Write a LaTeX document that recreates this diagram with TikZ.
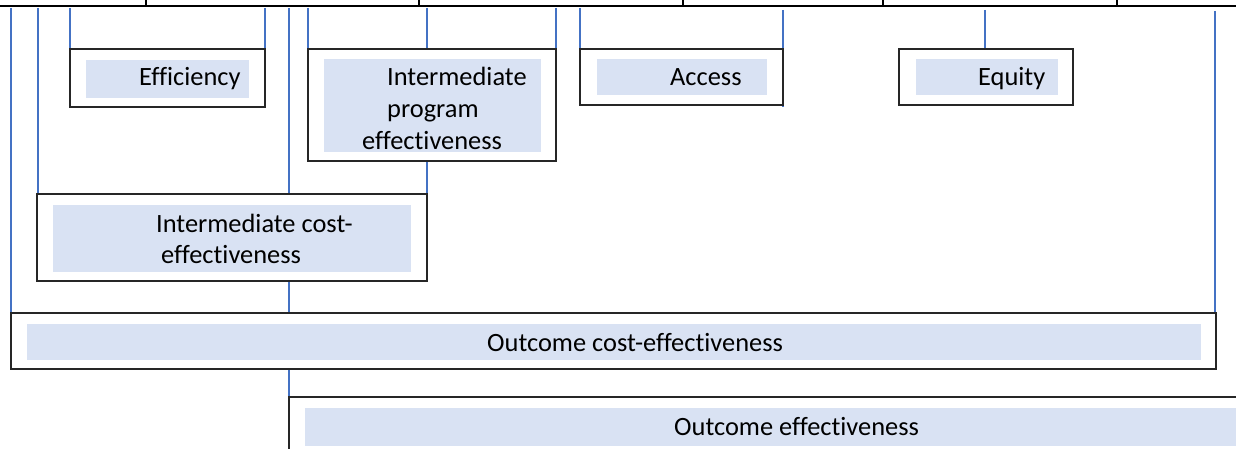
\documentclass[tikz,border=0pt]{standalone}
\usepackage{fontspec}
\setmainfont{Carlito}[Ligatures=NoCommon]
\definecolor{fillblue}{HTML}{D9E2F3}
\definecolor{linkblue}{HTML}{4472C4}
\begin{document}
\begin{tikzpicture}[x=1pt,y=-1pt,
  obox/.style={draw=black!85, line width=1.3pt, inner sep=0pt, outer sep=0pt, anchor=north west},
  fbox/.style={fill=fillblue, draw=none, inner sep=0pt, outer sep=0pt, anchor=north west},
  lbl/.style={inner sep=0pt, anchor=base west, font=\fontsize{26.4}{31.5}\selectfont},
  link/.style={draw=linkblue, line width=1.1pt},
  rulestyle/.style={draw=black, line width=2pt}]
\useasboundingbox (0,0) rectangle (1236,449);
\clip (0,0) rectangle (1236,449);

% top rule with ticks
\coordinate (r0) at (0,6);
\coordinate (r1) at (1236,6);
\draw[rulestyle] (r0) -- (r1);
\foreach \tx in {146,419,683,883,1117} {\draw[rulestyle,line width=1.5pt] (\tx,0) -- (\tx,6);}

% fills
\node[fbox, minimum width=163pt, minimum height=38pt] (efff) at (86,60) {};
\node[fbox, minimum width=217pt, minimum height=93pt] (ipef) at (324,59) {};
\node[fbox, minimum width=170pt, minimum height=36pt] (accf) at (597,59) {};
\node[fbox, minimum width=142pt, minimum height=36pt] (equf) at (916,59) {};
\node[fbox, minimum width=358pt, minimum height=67pt] (icef) at (53,205) {};
\node[fbox, minimum width=1174pt, minimum height=36pt] (ocef) at (27,324) {};
\node[fbox, minimum width=960pt, minimum height=38pt] (oef) at (305,408) {};

% outline boxes
\node[obox, minimum width=195pt, minimum height=58pt] (eff) at (70,49) {};
\node[obox, minimum width=248pt, minimum height=112pt] (ipe) at (308,49) {};
\node[obox, minimum width=203pt, minimum height=56pt] (acc) at (580,49) {};
\node[obox, minimum width=174pt, minimum height=56pt] (equ) at (899,49) {};
\node[obox, minimum width=390pt, minimum height=87pt] (ice) at (37,194) {};
\node[obox, minimum width=1205pt, minimum height=56pt] (oce) at (11,313) {};
\node[obox, minimum width=960pt, minimum height=70pt] (oe) at (289,397) {};

% blue links from the top rule
\foreach \lx/\ly in {11/8,38/8,70/8,265/8,289/8,308/8,427/8,556/8,580/8,783/10,985/10,1215/11}
  {\coordinate (a\lx) at (\lx,\ly);}
\draw[link] (a11) -- (a11 |- oce.north);
\draw[link] (a38) -- (a38 |- ice.north);
\draw[link] (a70) -- (a70 |- eff.south);
\draw[link] (a265) -- (a265 |- eff.south);
\draw[link] (a289) -- (a289 |- ice.north);
\draw[link] (a289 |- ice.south) -- (a289 |- oce.north);
\draw[link] (a289 |- oce.south) -- (oe.north west);
\draw[link] (a308) -- (a308 |- ipe.south);
\draw[link] (a427) -- (a427 |- ipe.north);
\draw[link] (a427 |- ipe.south) -- (a427 |- ice.north);
\draw[link] (a556) -- (a556 |- ipe.north);
\draw[link] (a580) -- (a580 |- acc.south);
\draw[link] (a783) -- ([yshift=-2pt]a783 |- acc.south);
\draw[link] (a985) -- (a985 |- equ.north);
\draw[link] (a1215) -- (a1215 |- oce.north);

% redraw outlines over links
\foreach \n in {eff,ipe,acc,equ,ice,oce,oe} {\draw[draw=black!85, line width=1.3pt] (\n.north west) rectangle (\n.south east);}

% labels
\node[lbl] (efft) at (139,86) {Efficiency};
\node[lbl] (ipet1) at (387,86) {Intermediate};
\node[lbl] (ipet2) at (387,118) {program};
\node[lbl] (ipet3) at (362,150) {effectiveness};
\node[lbl] (acct) at (670,86) {Access};
\node[lbl] (equt) at (978,86) {Equity};
\node[lbl] (icet1) at (156,232) {Intermediate cost-};
\node[lbl] (icet2) at (161,263) {effectiveness};
\node[lbl] (ocet) at (487,351) {Outcome cost-effectiveness};
\node[lbl] (oet) at (674,435) {Outcome effectiveness};
\end{tikzpicture}
\end{document}
